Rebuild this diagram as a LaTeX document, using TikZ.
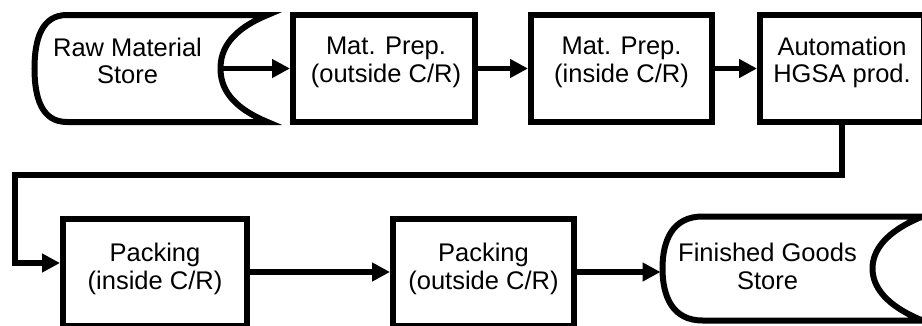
\documentclass[tikz,border=0pt]{standalone}
\usepackage{fontspec}
\setmainfont{Liberation Sans}
\usetikzlibrary{arrows.meta, calc}

\begin{document}
\begin{tikzpicture}[x=1pt, y=1pt,
    box/.style={draw, line width=6pt, minimum width=#1, minimum height=107pt, inner sep=0pt},
    store/.style={inner sep=0pt, outer sep=0pt},
    outline/.style={line width=6pt},
    txt/.style={font=\fontsize{25.5}{27.5}\selectfont, align=center, inner sep=0pt},
    flow/.style={line width=5.5pt, -{Triangle[length=18pt, width=18pt]}}]

    \useasboundingbox (0,0) rectangle (922,325);
    \clip (0,0) rectangle (922,325);

    % Top row
    \node[store, minimum width=186pt, minimum height=107pt] (raw) at (127.5,256.5) {};
    \node[box=182pt] (mpo) at (384,256.5) {};
    \node[box=181pt] (mpi) at (621.5,256.5) {};
    \node[box=164pt] (auto) at (842,256.5) {};

    % Bottom row
    \node[box=184pt] (pin) at (155,53) {};
    \node[box=181pt] (pout) at (483.5,53) {};
    \node[store, minimum width=210pt, minimum height=104pt] (fgs) at (767.5,56.5) {};

    % Raw material store outline
    \draw[outline] ($(raw.north west)+(32.5,0)$) -- ($(raw.north east)+(47,0)$)
        .. controls +(-37.5,-15.5) and +(0,18.5) .. (raw.east)
        .. controls +(0,-18.5) and +(-37.5,15.5) .. ($(raw.south east)+(47,0)$)
        -- ($(raw.south west)+(32.5,0)$)
        .. controls +(-25,0) and +(0,-30) .. (raw.west)
        .. controls +(0,30) and +(-25,0) .. ($(raw.north west)+(32.5,0)$) -- cycle;

    % Finished goods store outline
    \draw[outline] ($(fgs.north west)+(40,0)$) -- ($(fgs.north east)+(50,0)$)
        .. controls +(-37,-15) and +(0,18) .. (fgs.east)
        .. controls +(0,-18) and +(-37,15) .. ($(fgs.south east)+(50,0)$)
        -- ($(fgs.south west)+(40,0)$)
        .. controls +(-30,0) and +(0,-28) .. (fgs.west)
        .. controls +(0,28) and +(-30,0) .. ($(fgs.north west)+(40,0)$) -- cycle;

    % Texts
    \node[txt] (raw-t) at ($(raw)+(0,7.8)$) {Raw Material\\Store};
    \node[txt] (mpo-t) at ($(mpo)+(2,6)$) {Mat. Prep.\\(outside C/R)};
    \node[txt] (mpi-t) at ($(mpi)+(0,6)$) {Mat. Prep.\\(inside C/R)};
    \node[txt] (auto-t) at ($(auto)+(0,6)$) {Automation\\HGSA prod.};
    \node[txt] (pin-t) at ($(pin)+(0,3)$) {Packing\\(inside C/R)};
    \node[txt] (pout-t) at ($(pout)+(0,3)$) {Packing\\(outside C/R)};
    \node[txt] (fgs-t) at ($(fgs)+(0,2.2)$) {Finished Goods\\Store};

    % Flow
    \draw[flow] (raw.east) -- (mpo.west);
    \draw[flow] (mpo.east) -- (mpi.west);
    \draw[flow] (mpi.east) -- (auto.west);
    \coordinate (bend) at (15,150);
    \draw[flow] (auto.south) |- (bend) |- ($(pin.west)+(0,9)$);
    \draw[flow] (pin.east) -- (pout.west);
    \draw[flow, shorten >=2pt] (pout.east) -- (pout.east -| fgs.west);
\end{tikzpicture}
\end{document}
